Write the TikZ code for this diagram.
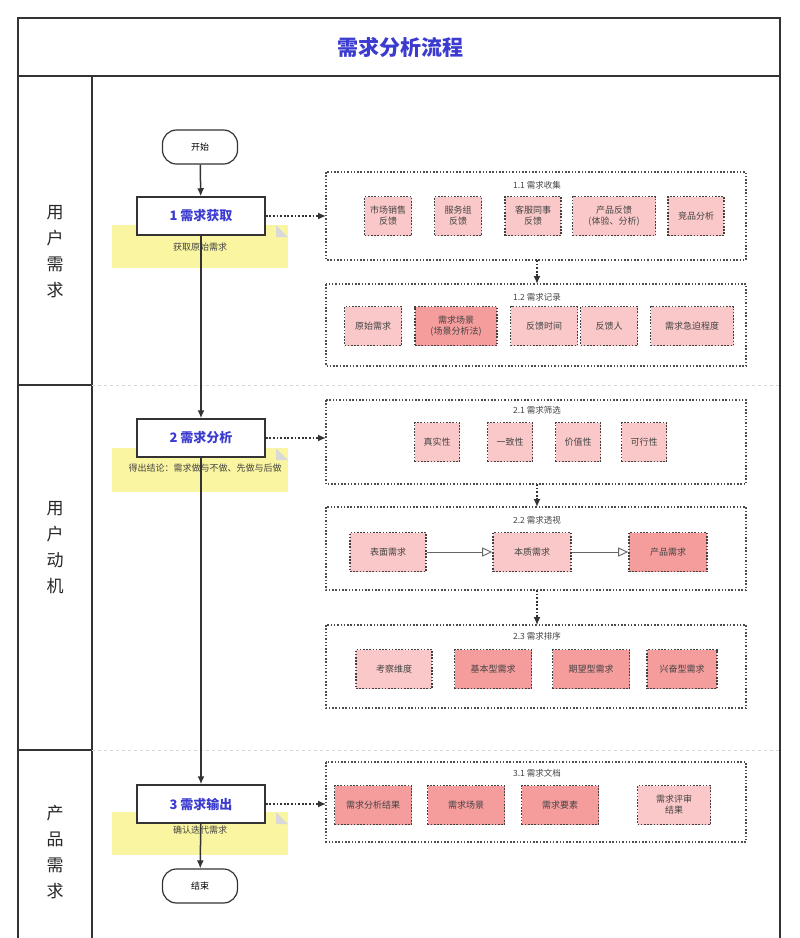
\documentclass[tikz,border=0pt]{standalone}
\usepackage{fontspec}
\setmainfont{Noto Sans CJK SC}
\usetikzlibrary{arrows.meta}
\definecolor{lp}{HTML}{FAC8C8}
\definecolor{dp}{HTML}{F59C9C}
\definecolor{nt}{HTML}{FAF5A0}
\definecolor{tb}{HTML}{3B3BD0}
\definecolor{tx}{HTML}{444444}
\tikzset{
 it/.style={draw=black!75,dash pattern=on 1.6pt off 1.6pt,line width=1.6pt,fill=lp,minimum height=39pt,inner sep=1pt,align=center,font=\fontsize{9}{11}\selectfont,text=tx},
 dk/.style={it,fill=dp},
 grp/.style={draw=black!70,dash pattern=on 1.5pt off 1.8pt,line width=1.4pt},
 gt/.style={font=\fontsize{8.5}{10}\selectfont,text=tx},
 stepbox/.style={draw=black!80,line width=1.5pt,fill=white,minimum width=128pt,minimum height=38pt,font=\fontsize{13}{15}\selectfont\bfseries,text=tb},
 term/.style={draw=black!80,line width=1.2pt,rounded corners=14pt,fill=white,minimum width=75pt,minimum height=34pt,font=\fontsize{9}{10}\selectfont},
 note/.style={fill=nt,font=\fontsize{9}{10}\selectfont,text=tx},
 lane/.style={font=\fontsize{17}{26}\selectfont,align=center,text=black!85},
 da/.style={dash pattern=on 1.8pt off 1.8pt,line width=1.5pt,black!80,-{Latex[length=8pt,width=7pt]}},
 oa/.style={black!60,line width=0.9pt,-{Triangle[open,length=10pt,width=9pt,fill=white]}},
 sa/.style={black!80,line width=1.5pt,-{Latex[length=8pt,width=7pt]}}
}
\begin{document}
\begin{tikzpicture}[x=1pt,y=-1pt]
\useasboundingbox (0,0) rectangle (800,938);
\fill[white] (0,0) rectangle (800,938);
% frame
\draw[black!80,line width=1.2pt] (18,18) rectangle (780,945);
\draw[black!80,line width=1.2pt] (18,76) -- (780,76);
\draw[black!80,line width=1.2pt] (92,76) -- (92,945);
\draw[black!80,line width=1.2pt] (18,385) -- (92,385);
\draw[black!80,line width=1.2pt] (18,750) -- (92,750);
\draw[black!15,dashed] (92,385) -- (780,385);
\draw[black!15,dashed] (92,750) -- (780,750);
\node[font=\fontsize{21}{24}\selectfont\bfseries,text=tb] (title) at (400,47) {需求分析流程};
\node[lane] (l1) at (55,252) {用\\户\\需\\求};
\node[lane] (l2) at (55,548) {用\\户\\动\\机};
\node[lane] (l3) at (55,852) {产\\品\\需\\求};
% notes
\fill[nt] (112,225) rectangle (288,268);
\fill[black!15] (276,225) -- (288,237) -- (276,237) -- cycle;
\node[note] (n1) at (200,247) {获取原始需求};
\fill[nt] (112,448) rectangle (288,492);
\fill[black!15] (276,448) -- (288,460) -- (276,460) -- cycle;
\node[note] (n2) at (205,468) {得出结论：需求做与不做、先做与后做};
\fill[nt] (112,812) rectangle (288,855);
\fill[black!15] (276,812) -- (288,824) -- (276,824) -- cycle;
\node[note] (n3) at (200,830) {确认迭代需求};
% main flow
\node[term] (start) at (200,147) {开始};
\node[stepbox] (s1) at (201,216) {1 需求获取};
\node[stepbox] (s2) at (201,438) {2 需求分析};
\node[stepbox] (s3) at (201,804) {3 需求输出};
\node[term] (end) at (200,886) {结束};
\draw[sa] (start) -- (s1);
\draw[sa] (s1) -- (s2);
\draw[sa] (s2) -- (s3);
\draw[sa] (s3) -- (end);
% groups
\draw[grp] (326,172) rectangle (746,260); \node[gt] (g11) at (537,185) {1.1 需求收集};
\draw[grp] (326,284) rectangle (746,366); \node[gt] (g12) at (537,297) {1.2 需求记录};
\draw[grp] (326,400) rectangle (746,484); \node[gt] (g21) at (537,410) {2.1 需求筛选};
\draw[grp] (326,507) rectangle (746,590); \node[gt] (g22) at (537,520) {2.2 需求透视};
\draw[grp] (326,625) rectangle (746,708); \node[gt] (g23) at (537,636) {2.3 需求排序};
\draw[grp] (326,762) rectangle (746,842); \node[gt] (g31) at (537,773) {3.1 需求文档};
\coordinate (g11l) at (326,216); \coordinate (g21l) at (326,438); \coordinate (g31l) at (326,804);
\coordinate (g11b) at (537,260); \coordinate (g12t) at (537,284);
\coordinate (g21b) at (537,484); \coordinate (g22t) at (537,507);
\coordinate (g22b) at (537,590); \coordinate (g23t) at (537,625);
\draw[da] (s1) -- (g11l);
\draw[da] (s2) -- (g21l);
\draw[da] (s3) -- (g31l);
\draw[da] (g11b) -- (g12t);
\draw[da] (g21b) -- (g22t);
\draw[da] (g22b) -- (g23t);
% 1.1
\node[it,minimum width=47pt] (a1) at (388,216) {市场销售\\反馈};
\node[it,minimum width=47pt] (a2) at (458,216) {服务组\\反馈};
\node[it,minimum width=56pt] (a3) at (533,216) {客服同事\\反馈};
\node[it,minimum width=83pt] (a4) at (614,216) {产品反馈\\(体验、分析)};
\node[it,minimum width=56pt] (a5) at (696,216) {竞品分析};
% 1.2
\node[it,minimum width=57pt] (b1) at (373,326) {原始需求};
\node[dk,minimum width=82pt] (b2) at (456,326) {需求场景\\(场景分析法)};
\node[it,minimum width=67pt] (b3) at (544,326) {反馈时间};
\node[it,minimum width=57pt] (b4) at (609,326) {反馈人};
\node[it,minimum width=83pt] (b5) at (692,326) {需求急迫程度};
% 2.1
\node[it,minimum width=45pt] (c1) at (437,442) {真实性};
\node[it,minimum width=45pt] (c2) at (510,442) {一致性};
\node[it,minimum width=45pt] (c3) at (578,442) {价值性};
\node[it,minimum width=45pt] (c4) at (644,442) {可行性};
% 2.2
\node[it,minimum width=76pt] (d1) at (388,552) {表面需求};
\node[it,minimum width=78pt] (d2) at (532,552) {本质需求};
\node[dk,minimum width=78pt] (d3) at (668,552) {产品需求};
\draw[oa] (d1) -- (d2);
\draw[oa] (d2) -- (d3);
% 2.3
\node[it,minimum width=76pt] (e1) at (394,669) {考察维度};
\node[dk,minimum width=77pt] (e2) at (493,669) {基本型需求};
\node[dk,minimum width=77pt] (e3) at (591,669) {期望型需求};
\node[dk,minimum width=70pt] (e4) at (682,669) {兴奋型需求};
% 3.1
\node[dk,minimum width=77pt] (f1) at (373,805) {需求分析结果};
\node[dk,minimum width=77pt] (f2) at (466,805) {需求场景};
\node[dk,minimum width=77pt] (f3) at (560,805) {需求要素};
\node[it,minimum width=73pt] (f4) at (674,805) {需求评审\\结果};
\end{tikzpicture}
\end{document}
